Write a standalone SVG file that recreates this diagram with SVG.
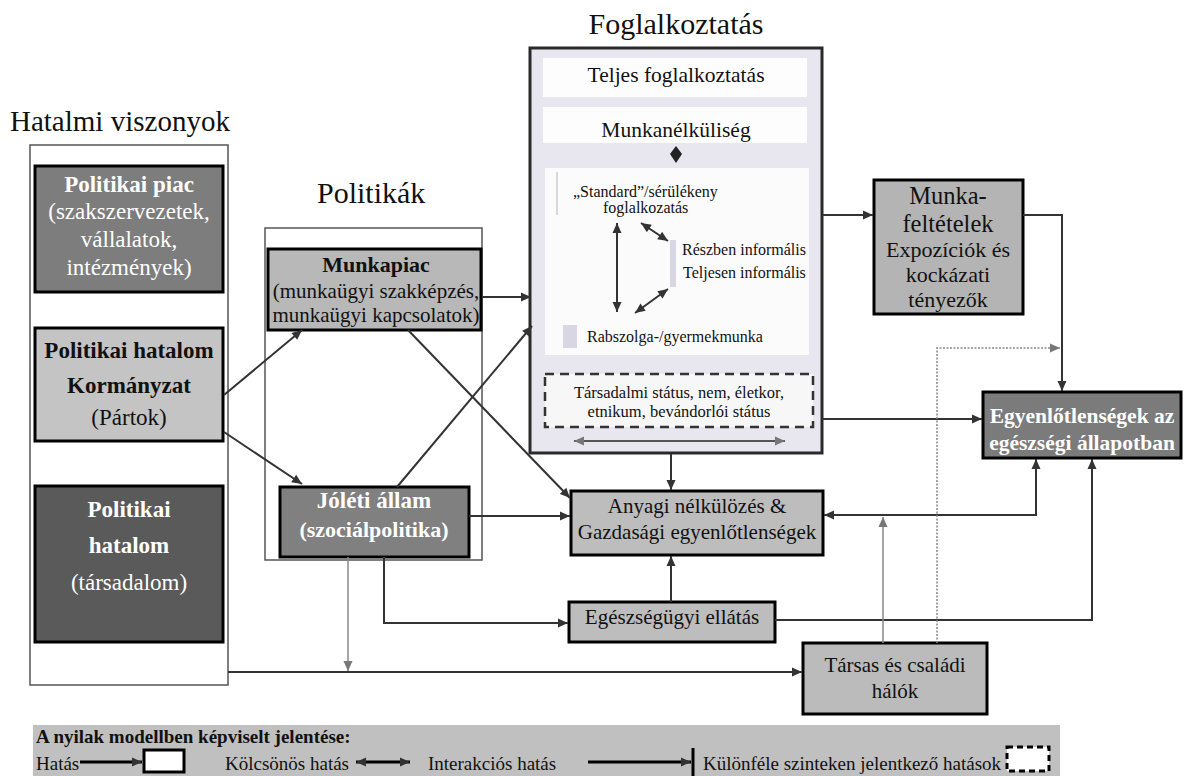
<svg xmlns="http://www.w3.org/2000/svg" width="1192" height="776" viewBox="0 0 1192 776" font-family="'Liberation Serif', 'DejaVu Serif', 'Times New Roman', serif">
<defs>
<style>
text{font-family:'Liberation Serif','DejaVu Serif','Times New Roman',serif;fill:#111}
.t{font-size:29px}
.b{font-weight:bold}
.w{fill:#fff}
.c{text-anchor:middle}
.box{stroke:#000;stroke-width:3}
.frame{fill:none;stroke:#555;stroke-width:1.5}
.ln{fill:none;stroke:#333;stroke-width:2}
.lt{fill:none;stroke:#888;stroke-width:1.5}
</style>
<marker id="a" viewBox="0 0 10 10" refX="10" refY="5" markerWidth="11" markerHeight="10" markerUnits="userSpaceOnUse" orient="auto-start-reverse"><path d="M0,0.5 L10,5 L0,9.5 z" fill="#333"/></marker>
<marker id="g" viewBox="0 0 10 10" refX="10" refY="5" markerWidth="11" markerHeight="10" markerUnits="userSpaceOnUse" orient="auto-start-reverse"><path d="M0,0.5 L10,5 L0,9.5 z" fill="#777"/></marker>
</defs>
<rect width="1192" height="776" fill="#fff"/>

<g id="titles">
<text class="t" x="10" y="131">Hatalmi viszonyok</text>
<text class="t" x="317" y="203" style="font-size:30px">Politikák</text>
<text class="t c" x="676" y="34" style="font-size:30px">Foglalkoztatás</text>
</g>

<g id="hatalmi-frame"><rect class="frame" x="30" y="145" width="198" height="540"/></g>
<g id="politikak-frame"><rect class="frame" x="265" y="228" width="217" height="332"/></g>

<g id="politikai-piac">
<rect class="box" x="35" y="166" width="188" height="126" fill="#7d7d7d"/>
<text class="b w c" x="129" y="192" style="font-size:23px">Politikai piac</text>
<text class="w c" x="129" y="219" style="font-size:23px">(szakszervezetek,</text>
<text class="w c" x="129" y="247" style="font-size:23px">vállalatok,</text>
<text class="w c" x="129" y="275" style="font-size:23px">intézmények)</text>
</g>

<g id="kormanyzat">
<rect class="box" x="35" y="328" width="188" height="113" fill="#c4c4c4"/>
<text class="b c" x="129" y="358" style="font-size:23px">Politikai hatalom</text>
<text class="b c" x="129" y="393" style="font-size:23px">Kormányzat</text>
<text class="c" x="129" y="425" style="font-size:23px">(Pártok)</text>
</g>

<g id="tarsadalom">
<rect class="box" x="35" y="486" width="188" height="156" fill="#5a5a5a"/>
<text class="b w c" x="129" y="517" style="font-size:23px">Politikai</text>
<text class="b w c" x="129" y="553" style="font-size:23px">hatalom</text>
<text class="w c" x="129" y="590" style="font-size:23px">(társadalom)</text>
</g>

<g id="munkapiac">
<rect class="box" x="268" y="249" width="213" height="81" fill="#b8b8b8"/>
<text class="b c" x="376" y="272" style="font-size:22px">Munkapiac</text>
<text class="c" x="376" y="298" style="font-size:21px">(munkaügyi szakképzés,</text>
<text class="c" x="376" y="322" style="font-size:21px">munkaügyi kapcsolatok)</text>
</g>

<g id="joleti">
<rect class="box" x="280" y="487" width="189" height="70" fill="#808080"/>
<text class="b w c" x="374" y="508" style="font-size:23px">Jóléti állam</text>
<text class="b w c" x="374" y="537" style="font-size:22px">(szociálpolitika)</text>
</g>

<g id="foglalkoztatas">
<rect x="530" y="48" width="292" height="405" fill="#e8e6ef" stroke="#2a2a2a" stroke-width="3"/>
<rect x="543" y="58" width="264" height="39" fill="#fdfdfd"/>
<rect x="543" y="107" width="264" height="36" fill="#fdfdfd"/>
<rect x="545" y="168" width="264" height="187" fill="#fbfbfc"/>
<line x1="557" y1="172" x2="557" y2="215" stroke="#ccc" stroke-width="1.5"/>
<rect x="670" y="240" width="6" height="47" fill="#d9d6e3"/>
<rect x="563" y="325" width="14" height="23" fill="#d9d6e3"/>
<text class="c" x="676" y="82" style="font-size:21.5px">Teljes foglalkoztatás</text>
<text class="c" x="676" y="137" style="font-size:21.5px">Munkanélküliség</text>
<path d="M676,146 L682,154 L676,163 L670,154 Z" fill="#222"/>
<text x="573" y="197" style="font-size:16px">„Standard”/sérülékeny</text>
<text x="603" y="213" style="font-size:16px">foglalkozatás</text>
<text x="682" y="255" style="font-size:16px">Részben informális</text>
<text x="683" y="278" style="font-size:16px">Teljesen informális</text>
<text x="587" y="342" style="font-size:16px">Rabszolga-/gyermekmunka</text>
<line class="ln" x1="617" y1="223" x2="617" y2="312" marker-start="url(#a)" marker-end="url(#a)"/>
<line class="ln" x1="641" y1="223" x2="668" y2="241" stroke-width="2.5" marker-start="url(#a)" marker-end="url(#a)"/>
<line class="ln" x1="635" y1="313" x2="668" y2="289" stroke-width="2.5" marker-start="url(#a)" marker-end="url(#a)"/>
<rect x="545" y="374" width="268" height="53" fill="#f7f7f8" stroke="#333" stroke-width="2.5" stroke-dasharray="9,6"/>
<text class="c" x="679" y="398" style="font-size:16.5px">Társadalmi státus, nem, életkor,</text>
<text class="c" x="679" y="417" style="font-size:16.5px">etnikum, bevándorlói státus</text>
<line x1="574" y1="441" x2="785" y2="441" stroke="#555" stroke-width="2" marker-start="url(#g)" marker-end="url(#g)"/>
</g>

<g id="munkafeltetelek">
<rect class="box" x="874" y="180" width="149" height="134" fill="#b4b4b4"/>
<text class="c" x="948" y="204" style="font-size:24.5px">Munka-</text>
<text class="c" x="948" y="232" style="font-size:24.5px">feltételek</text>
<text class="c" x="948" y="257" style="font-size:22px">Expozíciók és</text>
<text class="c" x="948" y="282" style="font-size:22px">kockázati</text>
<text class="c" x="948" y="307" style="font-size:22px">tényezők</text>
</g>

<g id="egyenlotlensegek">
<rect class="box" x="983" y="392" width="198" height="66" fill="#7b7b7b"/>
<text class="b w c" x="1082" y="423" style="font-size:21.5px">Egyenlőtlenségek az</text>
<text class="b w c" x="1082" y="450" style="font-size:21.5px">egészségi állapotban</text>
</g>

<g id="anyagi">
<rect class="box" x="571" y="491" width="252" height="64" fill="#bdbdbd"/>
<text class="c" x="697" y="513" style="font-size:21px">Anyagi nélkülözés &amp;</text>
<text class="c" x="697" y="539" style="font-size:21px">Gazdasági egyenlőtlenségek</text>
</g>

<g id="egeszsegugyi">
<rect class="box" x="569" y="602" width="206" height="40" fill="#bdbdbd"/>
<text class="c" x="672" y="624" style="font-size:21px">Egészségügyi ellátás</text>
</g>

<g id="tarsas">
<rect class="box" x="803" y="643" width="184" height="71" fill="#bbbbbb"/>
<text class="c" x="895" y="672" style="font-size:21px">Társas és családi</text>
<text class="c" x="895" y="698" style="font-size:21px">hálók</text>
</g>

<g id="connectors">
<line class="ln" x1="224" y1="395" x2="302" y2="330" stroke-width="3" marker-end="url(#a)"/>
<line class="ln" x1="224" y1="432" x2="302" y2="484" stroke="#3a3145" stroke-width="3.5" marker-end="url(#a)"/>
<line class="ln" x1="482" y1="297" x2="531" y2="297" marker-end="url(#a)"/>
<line class="ln" x1="397" y1="487" x2="532" y2="326" stroke-width="2.5" marker-end="url(#a)"/>
<line class="ln" x1="408" y1="330" x2="570" y2="498" marker-end="url(#a)"/>
<line class="ln" x1="469" y1="516" x2="570" y2="516" stroke="#4a3540" marker-end="url(#a)"/>
<polyline class="ln" points="384,557 384,623 568,623" marker-end="url(#a)"/>
<line class="lt" x1="348" y1="557" x2="348" y2="671" marker-end="url(#g)"/>
<line class="ln" x1="228" y1="672" x2="802" y2="672" stroke="#3a3040" marker-end="url(#a)"/>
<line class="ln" x1="671" y1="454" x2="671" y2="490" marker-end="url(#a)"/>
<line class="ln" x1="671" y1="602" x2="671" y2="556" marker-end="url(#a)"/>
<line class="ln" x1="822" y1="215" x2="873" y2="215" stroke-width="2.5" marker-end="url(#a)"/>
<polyline class="ln" points="1023,215 1062,215 1062,391" stroke-width="3" marker-end="url(#a)"/>
<line class="ln" x1="822" y1="419" x2="982" y2="419" stroke="#2f5560" stroke-width="2.5" marker-end="url(#a)"/>
<polyline class="ln" points="824,515 1036,515 1036,459" stroke-width="3" marker-start="url(#a)" marker-end="url(#a)"/>
<polyline class="ln" points="775,620 1092,620 1092,459" marker-end="url(#a)"/>
<line class="lt" x1="883" y1="643" x2="883" y2="517" stroke-width="2" marker-end="url(#g)"/>
<polyline class="lt" points="937,643 937,348 1060,348" stroke-dasharray="2,1.5" stroke-width="2" marker-end="url(#g)"/>
</g>

<g id="legend">
<rect x="33" y="725" width="1027" height="51" fill="#c0c0c0"/>
<text class="b" x="36" y="743" style="font-size:19px">A nyilak modellben képviselt jelentése:</text>
<text x="36" y="770" style="font-size:19px">Hatás</text>
<line x1="80" y1="762" x2="142" y2="762" stroke="#000" stroke-width="3" marker-end="url(#a)"/>
<rect x="144" y="750" width="40" height="22" fill="#fff" stroke="#000" stroke-width="3"/>
<text x="225" y="770" style="font-size:19px">Kölcsönös hatás</text>
<line x1="356" y1="762" x2="410" y2="762" stroke="#000" stroke-width="3" marker-start="url(#a)" marker-end="url(#a)"/>
<text x="428" y="770" style="font-size:19px">Interakciós hatás</text>
<line x1="588" y1="762" x2="691" y2="762" stroke="#000" stroke-width="3" marker-end="url(#a)"/>
<line x1="693" y1="748" x2="693" y2="776" stroke="#000" stroke-width="3"/>
<text x="703" y="770" style="font-size:19px">Különféle szinteken jelentkező hatások</text>
<rect x="1007" y="747" width="42" height="24" fill="#fff" stroke="#000" stroke-width="3" stroke-dasharray="6,4"/>
</g>
</svg>
